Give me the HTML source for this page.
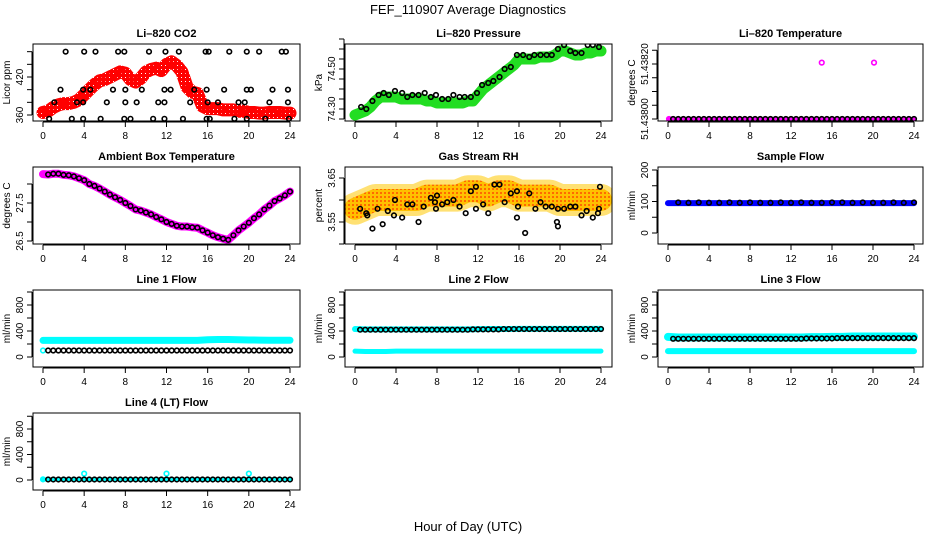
<!DOCTYPE html>
<html><head><meta charset="utf-8">
<style>
html,body{margin:0;padding:0;background:#fff;}
svg{display:block;font-family:"Liberation Sans",sans-serif;}
</style></head>
<body>
<svg id="chart" width="936" height="540" viewBox="0 0 936 540">
<defs>
<pattern id="rhpat" width="4" height="4" patternUnits="userSpaceOnUse"><rect width="4" height="4" fill="#ffc000"/><rect width="2" height="2" fill="#ff6a00"/></pattern>
<pattern id="co2pat" width="4" height="4" patternUnits="userSpaceOnUse"><rect width="4" height="4" fill="#ff0000"/><rect x="1" y="1" width="1" height="1" fill="#ffffff"/></pattern>
</defs>
<text x="468" y="14" text-anchor="middle" font-size="13">FEF_110907  Average Diagnostics</text>
<text x="468" y="531" text-anchor="middle" font-size="13">Hour of Day (UTC)</text>
</svg>
<script>
// ---------- data ----------
const xTicks = [0,4,8,12,16,20,24];
const halfHours = [0,0.5,1,1.5,2,2.5,3,3.5,4,4.5,5,5.5,6,6.5,7,7.5,8,8.5,9,9.5,10,10.5,11,11.5,12,12.5,13,13.5,14,14.5,15,15.5,16,16.5,17,17.5,18,18.5,19,19.5,20,20.5,21,21.5,22,22.5,23,23.5,24];
const hours = [0,1,2,3,4,5,6,7,8,9,10,11,12,13,14,15,16,17,18,19,20,21,22,23,24];

const co2Red = [364,366,372,376,378,378,380,384,392,400,408,414,416,420,424,428,426,416,412,418,428,432,434,430,440,444,438,428,404,396,394,374,370,370,370,368,368,368,366,366,364,364,363,363,364,364,364,363,363];
const co2BlackHours = [2.2,4,5.1,7.3,7.9,10.3,11.9,13.2,15.8,16.1,18.1,19.8,21,23.2,23.6, 1.7,3.9,4.6,6.8,8,9.6,11.8,12.4,14.7,15.9,17.6,19.8,20.2,22.3,23.8, 1.1,3.3,3.9,6.2,8,9.1,11.2,11.8,14.3,16,17,19,19.6,22,23.8, 0.6,2.8,3.9,5.6,7.9,8.5,10.7,11.8,13.6,15.9,16.2,18.6,19.8,21.6,23.9];
const co2BlackVals = [460,460,460,460,460,460,460,460,460,460,460,460,460,460,460, 400,400,400,400,400,400,400,400,400,400,400,400,400,400,400, 380,380,380,380,380,380,380,380,380,380,380,380,380,380,380, 354,354,354,354,354,354,354,354,354,354,354,354,354,354,354];

const presGreen = [74.27,74.28,74.29,74.31,74.34,74.36,74.36,74.36,74.36,74.35,74.35,74.35,74.35,74.35,74.34,74.34,74.33,74.33,74.33,74.33,74.33,74.33,74.34,74.34,74.37,74.40,74.42,74.44,74.46,74.48,74.50,74.52,74.55,74.55,74.55,74.55,74.56,74.56,74.56,74.57,74.59,74.59,74.58,74.57,74.57,74.58,74.58,74.59,74.59];
const presBlackHours = [0.6,1.1,1.7,2.3,2.8,3.3,3.9,4.6,5.1,5.6,6.2,6.8,7.4,7.9,8.5,9.1,9.6,10.2,10.7,11.3,11.9,12.4,13,13.5,14.1,14.6,15.2,15.8,16.4,17,17.5,18.1,18.7,19.2,19.8,20.4,21,21.5,22.1,22.7,23.2,23.8];
const presBlackVals = [74.31,74.30,74.34,74.37,74.38,74.37,74.39,74.38,74.36,74.37,74.37,74.38,74.36,74.37,74.35,74.35,74.37,74.36,74.36,74.36,74.38,74.42,74.43,74.44,74.46,74.50,74.51,74.57,74.57,74.56,74.57,74.57,74.57,74.57,74.60,74.62,74.59,74.58,74.58,74.62,74.62,74.61];

const liTempHours = [0,1,2,3,4,5,6,7,8,9,10,11,12,13,14,15,16,17,18,19,20,21,22,23,24];
const liTempVals = [51.438,51.438,51.438,51.438,51.438,51.438,51.438,51.438,51.438,51.438,51.438,51.438,51.438,51.438,51.438,51.438,51.438,51.438,51.438,51.438,51.438,51.438,51.438,51.438,51.438];
const liTempSpikeHours = [0.1,15,20.1];
const liTempSpikeVals = [51.438,51.438205,51.438205];

const ambTemp = [28.26,28.25,28.27,28.27,28.24,28.23,28.2,28.15,28.1,28.0,27.95,27.88,27.8,27.72,27.65,27.58,27.5,27.42,27.33,27.3,27.25,27.2,27.13,27.07,27.0,26.95,26.9,26.88,26.88,26.86,26.85,26.78,26.72,26.65,26.6,26.56,26.53,26.65,26.78,26.88,26.98,27.1,27.2,27.33,27.43,27.55,27.62,27.7,27.8];

const rhBand = [3.58,3.59,3.60,3.60,3.60,3.60,3.60,3.61,3.61,3.61,3.61,3.62,3.62,3.61,3.62,3.62,3.61,3.61,3.61,3.61,3.60,3.60,3.60,3.60,3.60];
const rhBlackHours = [0.5,1.1,1.2,1.7,2.2,2.7,3.2,3.8,3.9,4.6,5.1,5.6,6.2,6.7,7.4,7.8,7.9,8,8.5,9,9.6,10.2,10.8,11.3,11.8,11.8,12.5,13,13.6,14.1,14.6,15.2,15.8,15.8,15.9,16.6,17,17.6,18.1,18.6,19.2,19.7,19.8,19.8,20.4,21,21.5,22.1,22.6,23.2,23.7,23.8,23.9];
const rhBlackVals = [3.58,3.57,3.565,3.535,3.58,3.545,3.575,3.565,3.60,3.56,3.59,3.59,3.55,3.585,3.605,3.595,3.58,3.61,3.59,3.595,3.60,3.585,3.57,3.62,3.63,3.58,3.59,3.57,3.635,3.635,3.595,3.615,3.62,3.56,3.585,3.525,3.615,3.58,3.595,3.585,3.585,3.55,3.54,3.58,3.58,3.585,3.585,3.565,3.575,3.56,3.57,3.58,3.63];

const sampleBlue = [95,95,95,95,95,95,95,95,95,95,95,95,95,95,95,95,95,95,95,95,95,95,95,95,95];
const sampleBlack = [95,97,96,97,96,96,97,96,97,96,96,97,96,97,96,96,97,97,96,97,96,96,97,96,97];

const line1Cyan = [255,255,255,255,255,255,255,255,255,255,255,255,255,255,255,255,265,270,270,265,262,260,258,258,258];
const line1Black = [100,100,100,100,100,100,100,100,100,100,100,100,100,100,100,100,100,100,100,100,100,100,100,100,100];
const line1CyanLow = [100];
const line2CyanHigh = [430,425,425,425,425,425,425,425,425,425,425,425,428,430,430,430,432,432,432,432,432,432,432,432,432];
const line2Black = [420,420,420,420,420,420,420,420,420,420,420,420,425,425,425,430,430,430,430,430,430,430,430,430,430];
const line2CyanLow = [90,85,85,85,90,90,90,90,90,90,90,90,90,90,90,90,90,90,90,90,90,90,90,90,90];
const line3CyanHigh = [310,300,300,300,300,300,300,300,300,300,300,300,300,300,305,305,310,310,315,315,315,315,315,315,315];
const line3Black = [270,280,280,280,280,280,280,280,280,280,280,280,280,280,285,285,285,290,290,290,290,290,290,290,290];
const line3CyanLow = [90,90,90,90,90,90,90,90,90,90,90,90,90,90,90,90,90,90,90,90,90,90,90,90,90];
const line4Black = [8,8,8,8,8,8,8,8,8,8,8,8,8,8,8,8,8,8,8,8,8,8,8,8,8];
const line4SpikeHours = [0,4,12,20];
const line4SpikeVals = [10,100,100,100];

// ---------- helpers ----------
const NS = "http://www.w3.org/2000/svg";
const svg = document.getElementById("chart");
function mk(tag, attrs, parent){ const e=document.createElementNS(NS,tag); for(const k in attrs) e.setAttribute(k,attrs[k]); (parent||svg).appendChild(e); return e; }

const cols = [{x0:33,x1:300,t0:43,t1:290},{x0:345,x1:612,t0:355,t1:601},{x0:658,x1:923,t0:668,t1:914}];
const rows = [{y0:44,y1:121},{y0:167,y1:244},{y0:290,y1:367},{y0:413,y1:490}];

function panel(cfg){
  const c=cols[cfg.col], r=rows[cfg.row];
  const g=mk("g",{});
  
  
  const xs = h => c.t0 + (h/24)*(c.t1-c.t0);
  const ys = v => cfg.p0 + (v-cfg.v0)/(cfg.v1-cfg.v0)*(cfg.p1-cfg.p0);
  const t=mk("text",{x:(c.x0+c.x1)/2,y:r.y0-7,"text-anchor":"middle","font-size":11,"font-weight":"bold"},g);
  t.textContent=cfg.title;
  
  
  const cid="clip"+cfg.col+"_"+cfg.row;
  const cp=mk("clipPath",{id:cid},g); mk("rect",{x:c.x0,y:r.y0,width:c.x1-c.x0,height:r.y1-r.y0},cp);
  const dg=mk("g",{"clip-path":"url(#"+cid+")"},g);
  cfg.draw(dg,xs,ys);
  const b=mk("rect",{x:c.x0,y:r.y0,width:c.x1-c.x0,height:r.y1-r.y0,fill:"none",stroke:"#000","stroke-width":1},g);
  
  
  const xa=mk("g",{},g);
  
  
  mk("line",{x1:xs(0),x2:xs(24),y1:r.y1+1,y2:r.y1+1,stroke:"#000"},xa);
  xTicks.forEach(h=>{
    mk("line",{x1:xs(h),x2:xs(h),y1:r.y1+1,y2:r.y1+6,stroke:"#000"},xa);
    const l=mk("text",{x:xs(h),y:r.y1+18,"text-anchor":"middle","font-size":10},xa); l.textContent=h;
  });
  const ya=mk("g",{},g);
  
  
  const yt=cfg.ticks;
  mk("line",{x1:c.x0-1,x2:c.x0-1,y1:ys(yt[0]),y2:ys(yt[yt.length-1]),stroke:"#000"},ya);
  yt.forEach(v=>mk("line",{x1:c.x0-6,x2:c.x0-1,y1:ys(v),y2:ys(v),stroke:"#000"},ya));
  cfg.labels.forEach((lab,i)=>{
    const y=ys(cfg.labelVals[i]);
    const l=mk("text",{x:c.x0-10,y:y,"text-anchor":"middle","font-size":10,transform:"rotate(-90 "+(c.x0-10)+" "+y+")"},ya);
    l.textContent=lab;
  });
  const yx=c.x0-23, ymid=(r.y0+r.y1)/2;
  const ttl=mk("text",{x:yx,y:ymid,"text-anchor":"middle","font-size":10,transform:"rotate(-90 "+yx+" "+ymid+")"},g);
  ttl.textContent=cfg.ytitle;
  
  
}
function band(g,xs,ys,hs,vs,color,w,name){
  const p=mk("polyline",{points:hs.map((h,i)=>xs(h)+","+ys(vs[i])).join(" "),fill:"none",stroke:color,"stroke-width":w,"stroke-linejoin":"round","stroke-linecap":"round"},g);
  
  
}
function pts(g,xs,ys,hs,vs,color,name,r){
  hs.forEach((h,i)=>{
    const c=mk("circle",{cx:xs(h),cy:ys(vs[i]),r:r||2.3,fill:"none",stroke:color,"stroke-width":1.6},g);
    
    
  });
}
const blackHalf = halfHours.slice(1);

panel({name:"panel-co2",title:"Li\u2013820 CO2",col:0,row:0,v0:360,v1:420,p0:115,p1:77,ticks:[360,380,400,420,440,460],labels:["360","420"],labelVals:[360,420],ytitle:"Licor ppm",
 draw:(g,xs,ys)=>{ band(g,xs,ys,halfHours,co2Red,"url(#co2pat)",13,"co2-band"); pts(g,xs,ys,halfHours,co2Red,"#ff0000","co2-point",3); pts(g,xs,ys,co2BlackHours,co2BlackVals,"#000","co2-avg-point"); }});
panel({name:"panel-pressure",title:"Li\u2013820 Pressure",col:1,row:0,v0:74.30,v1:74.50,p0:109,p1:69,ticks:[74.25,74.30,74.35,74.40,74.45,74.50,74.55,74.60,74.65],labels:["74.30","74.50"],labelVals:[74.30,74.50],ytitle:"kPa",
 draw:(g,xs,ys)=>{ band(g,xs,ys,halfHours,presGreen,"#22dd22",11,"pressure-band"); pts(g,xs,ys,presBlackHours,presBlackVals,"#000","pressure-avg-point"); }});
panel({name:"panel-li820-temp",title:"Li\u2013820 Temperature",col:2,row:0,v0:51.438,v1:51.4382,p0:119,p1:64,ticks:[51.438,51.43805,51.4381,51.43815,51.4382,51.43825],labels:["51.43800","51.43820"],labelVals:[51.438,51.4382],ytitle:"degrees C",
 draw:(g,xs,ys)=>{ band(g,xs,ys,liTempHours,liTempVals,"#ff00ff",3,"li-temp-band"); pts(g,xs,ys,liTempSpikeHours,liTempSpikeVals,"#ff00ff","li-temp-point"); pts(g,xs,ys,blackHalf,blackHalf.map(()=>liTempVals[0]),"#000","li-temp-avg-point"); }});
panel({name:"panel-ambient-temp",title:"Ambient Box Temperature",col:0,row:1,v0:26.5,v1:27.5,p0:241,p1:203,ticks:[26.5,27,27.5,28],labels:["26.5","27.5"],labelVals:[26.5,27.5],ytitle:"degrees C",
 draw:(g,xs,ys)=>{ band(g,xs,ys,halfHours,ambTemp,"#ff00ff",8,"ambient-band"); pts(g,xs,ys,halfHours.slice(1),ambTemp.slice(1),"#000","ambient-avg-point"); }});
panel({name:"panel-rh",title:"Gas Stream RH",col:1,row:1,v0:3.55,v1:3.65,p0:222,p1:178,ticks:[3.50,3.55,3.60,3.65],labels:["3.55","3.65"],labelVals:[3.55,3.65],ytitle:"percent",
 draw:(g,xs,ys)=>{ band(g,xs,ys,hours,rhBand,"rgba(255,200,0,0.55)",32,"rh-band"); band(g,xs,ys,hours,rhBand,"url(#rhpat)",22,"rh-band-core"); pts(g,xs,ys,rhBlackHours,rhBlackVals,"#000","rh-avg-point"); }});
panel({name:"panel-sample-flow",title:"Sample Flow",col:2,row:1,v0:0,v1:200,p0:233,p1:170,ticks:[0,50,100,150,200],labels:["0","100","200"],labelVals:[0,100,200],ytitle:"ml/min",
 draw:(g,xs,ys)=>{ band(g,xs,ys,hours,sampleBlue,"#0000ff",6,"sample-band"); pts(g,xs,ys,hours.slice(1),sampleBlack.slice(1),"#000","sample-avg-point"); }});
const flowTicks=[0,200,400,600,800,1000];
panel({name:"panel-line1",title:"Line 1 Flow",col:0,row:2,v0:0,v1:800,p0:357,p1:305,ticks:flowTicks,labels:["0","400","800"],labelVals:[0,400,800],ytitle:"ml/min",
 draw:(g,xs,ys)=>{ band(g,xs,ys,hours,line1Cyan,"#00ffff",7,"line1-band"); pts(g,xs,ys,[0],line1CyanLow,"#00ffff","line1-point"); pts(g,xs,ys,blackHalf,blackHalf.map((h)=>line1Black[Math.round(h)]),"#000","line1-avg-point"); }});
panel({name:"panel-line2",title:"Line 2 Flow",col:1,row:2,v0:0,v1:800,p0:357,p1:305,ticks:flowTicks,labels:["0","400","800"],labelVals:[0,400,800],ytitle:"ml/min",
 draw:(g,xs,ys)=>{ band(g,xs,ys,hours,line2CyanHigh,"#00ffff",6,"line2-high-band"); band(g,xs,ys,hours,line2CyanLow,"#00ffff",5,"line2-low-band"); pts(g,xs,ys,blackHalf,blackHalf.map((h)=>line2Black[Math.round(h)]),"#000","line2-avg-point"); }});
panel({name:"panel-line3",title:"Line 3 Flow",col:2,row:2,v0:0,v1:800,p0:357,p1:305,ticks:flowTicks,labels:["0","400","800"],labelVals:[0,400,800],ytitle:"ml/min",
 draw:(g,xs,ys)=>{ band(g,xs,ys,hours,line3CyanHigh,"#00ffff",8,"line3-high-band"); band(g,xs,ys,hours,line3CyanLow,"#00ffff",6,"line3-low-band"); pts(g,xs,ys,blackHalf,blackHalf.map((h)=>line3Black[Math.round(h)]),"#000","line3-avg-point"); }});
panel({name:"panel-line4",title:"Line 4 (LT) Flow",col:0,row:3,v0:0,v1:800,p0:480,p1:429,ticks:flowTicks,labels:["0","400","800"],labelVals:[0,400,800],ytitle:"ml/min",
 draw:(g,xs,ys)=>{ band(g,xs,ys,hours,line4Black,"#00ffff",4,"line4-band"); pts(g,xs,ys,line4SpikeHours,line4SpikeVals,"#00ffff","line4-point"); pts(g,xs,ys,blackHalf,blackHalf.map((h)=>line4Black[Math.round(h)]),"#000","line4-avg-point"); }});
</script>
</body></html>
